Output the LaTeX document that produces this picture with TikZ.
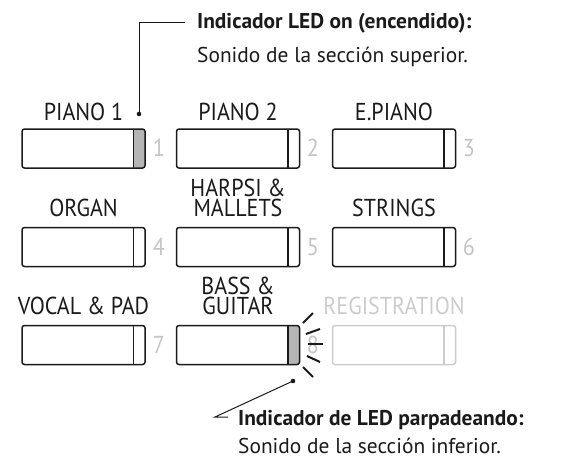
\documentclass[tikz,border=0pt]{standalone}
\usepackage{fontspec}
\setmainfont{PT Sans}
\newfontfamily\lblfont{PT Sans}[FakeStretch=0.9]
\definecolor{ledgray}{HTML}{B5B5B5}
\definecolor{digitgray}{HTML}{C4C4C4}
\definecolor{reggray}{HTML}{CCCCCC}
\definecolor{ink}{HTML}{1A1A1A}
\begin{document}
\begin{tikzpicture}[x=1pt,y=-1pt,
  btnbase/.style={draw=ink, line width=1.5pt, rounded corners=2.5pt, minimum width=123pt, minimum height=39pt, inner sep=0pt},
  btnplain/.style={btnbase, path picture={\draw[ink, line width=1.3pt] ([xshift=-11.5pt]path picture bounding box.north east) -- ([xshift=-11.5pt]path picture bounding box.south east);}},
  btnled/.style={btnbase, path picture={\fill[ledgray] ([xshift=-11.5pt]path picture bounding box.north east) rectangle (path picture bounding box.south east);\draw[ink, line width=1.3pt] ([xshift=-11.5pt]path picture bounding box.north east) -- ([xshift=-11.5pt]path picture bounding box.south east);}},
  btnreg/.style={btnbase, draw=reggray, path picture={\draw[reggray, line width=1.3pt] ([xshift=-11.5pt]path picture bounding box.north east) -- ([xshift=-11.5pt]path picture bounding box.south east);}},
  lbl/.style={font=\lblfont\fontsize{24.5}{20}\selectfont, text=ink, anchor=base, inner sep=0pt},
  lbltwo/.style={font=\lblfont\fontsize{24.5}{19.5}\selectfont, text=ink, align=center, anchor=south, inner sep=0pt},
  num/.style={font=\lblfont\fontsize{24.5}{24}\selectfont, text=digitgray, anchor=base, inner sep=0pt},
  boldtxt/.style={font=\bfseries\fontsize{21.4}{24}\selectfont, text=ink, anchor=base west, inner sep=0pt},
  regtxt/.style={font=\fontsize{21.4}{24}\selectfont, text=ink, anchor=base west, inner sep=0pt},
  leader/.style={draw=ink, line width=1pt},
  flash/.style={draw=ink, line width=2pt}
]
\useasboundingbox (0,0) rectangle (571,461);
% row 1
\node[btnled]   (b1) at (83.5,148.5) {};
\node[btnplain] (b2) at (238,148.5) {};
\node[btnplain] (b3) at (394,148.5) {};
% row 2
\node[btnplain] (b4) at (83.5,247) {};
\node[btnplain] (b5) at (238,247) {};
\node[btnplain] (b6) at (394,247) {};
% row 3
\node[btnplain] (b7) at (83.5,345) {};
\node[btnled]   (b8) at (238,345) {};
\node[btnreg]   (b9) at (394,345) {};
% labels
\node[lbl] (l1) at (83.5,120) {PIANO 1};
\node[lbl] (l2) at (238,120) {PIANO 2};
\node[lbl] (l3) at (394,120) {E.PIANO};
\node[lbl] (l4) at (83.5,216.5) {ORGAN};
\node[lbltwo, text depth=0pt] (l5) at (238,216.5) {HARPSI \&\\MALLETS};
\node[lbl] (l6) at (394,216.5) {STRINGS};
\node[lbl] (l7) at (83.5,314.5) {VOCAL \& PAD};
\node[lbltwo, text depth=0pt] (l8) at (238,314.5) {BASS \&\\GUITAR};
\node[lbl, text=reggray] (l9) at (394,314.5) {REGISTRATION};
% digits
\node[num] (n1) at (159,156.5) {1};
\node[num] (n2) at (313,156.5) {2};
\node[num] (n3) at (469,156.5) {3};
\node[num] (n4) at (159,255) {4};
\node[num] (n5) at (313,255) {5};
\node[num] (n6) at (469,255) {6};
\node[num] (n7) at (159,353) {7};
\node[num] (n8) at (313,353) {8};
% flash lines
\coordinate (f1a) at (303,323); \coordinate (f1b) at (313,313);
\coordinate (f2a) at (306,334); \coordinate (f2b) at (320,329);
\coordinate (f3a) at (308,344); \coordinate (f3b) at (323,344);
\coordinate (f4a) at (307,356); \coordinate (f4b) at (320,362);
\coordinate (f5a) at (303,367); \coordinate (f5b) at (313,377);
\draw[flash] (f1a) -- (f1b);
\draw[flash] (f2a) -- (f2b);
\draw[flash] (f3a) -- (f3b);
\draw[flash] (f4a) -- (f4b);
\draw[flash] (f5a) -- (f5b);
% callout 1
\coordinate (d1) at (139,114);
\coordinate (c1) at (185,22);
\fill[ink] (d1) circle (2.3pt);
\draw[leader] (d1) |- (c1);
\node[boldtxt] (t1) at (197,28) {Indicador LED on (encendido):};
\node[regtxt] (s1) at (197,62) {Sonido de la sección superior.};
% callout 2
\coordinate (d2) at (293,381);
\coordinate (k2) at (215,417);
\coordinate (c2) at (228,417);
\fill[ink] (d2) circle (2.3pt);
\draw[leader] (d2) -- (k2) -- (c2);
\node[boldtxt] (t2) at (238,425) {Indicador de LED parpadeando:};
\node[regtxt] (s2) at (238,453) {Sonido de la sección inferior.};
\end{tikzpicture}
\end{document}
